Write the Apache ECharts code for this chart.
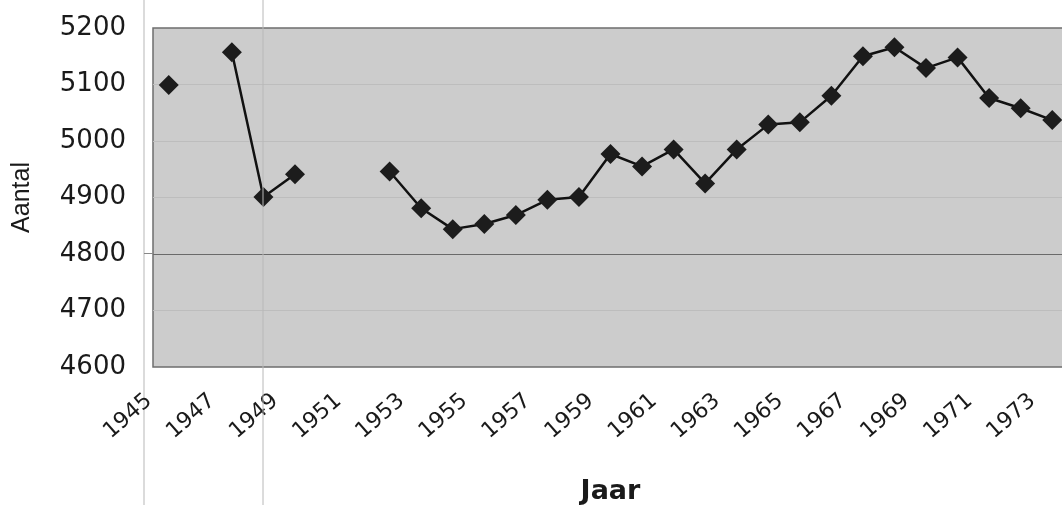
<!DOCTYPE html>
<html>
<head>
<meta charset="utf-8">
<script src="https://cdn.jsdelivr.net/npm/echarts@6/dist/echarts.min.js"></script>
<style>
html,body{margin:0;padding:0;background:#fff;}
#c{width:1062px;height:505px;}
</style>
</head>
<body>
<div id="c"></div>
<script>
const years = ['1945','1946','1947','1948','1949','1950','1951','1952','1953','1954','1955','1956','1957','1958','1959','1960','1961','1962','1963','1964','1965','1966','1967','1968','1969','1970','1971','1972','1973'];
const aantal = [5099, null, 5157, 4901, 4941, null, null, 4946, 4881, 4844, 4853, 4869, 4896, 4901, 4977, 4955, 4985, 4925, 4985, 5029, 5033, 5080, 5150, 5166, 5129, 5148, 5076, 5058, 5037];
const yMin = 4600, yMax = 5200, yStep = 100;
const xTitle = 'Jaar';
const yTitle = 'Aantal';

const chart = echarts.init(document.getElementById('c'), null, {renderer:'canvas'});
chart.setOption({
  animation: false,
  backgroundColor: '#ffffff',
  grid: {
    left: 153, top: 28, bottom: 138, right: -6,
    containLabel: false, outerBoundsMode: 'none',
    show: true, backgroundColor: '#cccccc', borderColor: '#6e6e6e', borderWidth: 1.5
  },
  graphic: [
    {type:'line', shape:{x1:144,y1:0,x2:144,y2:505}, style:{stroke:'#cfcfcf', lineWidth:1.5}, z:-1},
    {type:'line', shape:{x1:263,y1:0,x2:263,y2:505}, style:{stroke:'#b8b8b8', lineWidth:1}, z:10, silent:true},
    {type:'line', shape:{x1:144,y1:253.5,x2:153,y2:253.5}, style:{stroke:'#888', lineWidth:1}}
  ],
  xAxis: {
    type: 'category',
    data: years,
    boundaryGap: true,
    axisLine: {show: false},
    axisTick: {show: false},
    splitLine: {show: false},
    axisLabel: {
      interval: 1, rotate: 41, margin: 14, padding: [0, 26, 0, 0],
      fontFamily: 'DejaVu Sans', fontSize: 22, color: '#1a1a1a'
    },
    name: xTitle, nameLocation: 'middle', nameGap: 111,
    nameTextStyle: {fontFamily: 'DejaVu Sans', fontWeight: 'bold', fontSize: 27, color: '#1a1a1a'}
  },
  yAxis: {
    type: 'value', min: yMin, max: yMax, interval: yStep,
    axisLine: {show: false},
    axisTick: {show: false},
    axisLabel: {margin: 27, fontFamily: 'DejaVu Sans', fontSize: 26, color: '#1a1a1a', formatter: function(v){return String(v);}},
    splitLine: {show: true, lineStyle: {color: ['rgba(0,0,0,0)', '#bdbdbd', '#6a6a6a', '#bdbdbd', '#bdbdbd', '#bdbdbd', 'rgba(0,0,0,0)'], width: 1}},
    name: yTitle, nameLocation: 'middle', nameGap: 118, nameRotate: 90,
    nameTextStyle: {fontFamily: 'Liberation Sans', fontSize: 25, color: '#1a1a1a'}
  },
  series: [{
    type: 'line',
    data: aantal,
    connectNulls: false,
    symbol: 'diamond',
    symbolSize: 20,
    lineStyle: {color: '#111', width: 2.5},
    itemStyle: {color: '#1c1c1c', borderWidth: 0}
  }]
});
</script>
</body>
</html>
